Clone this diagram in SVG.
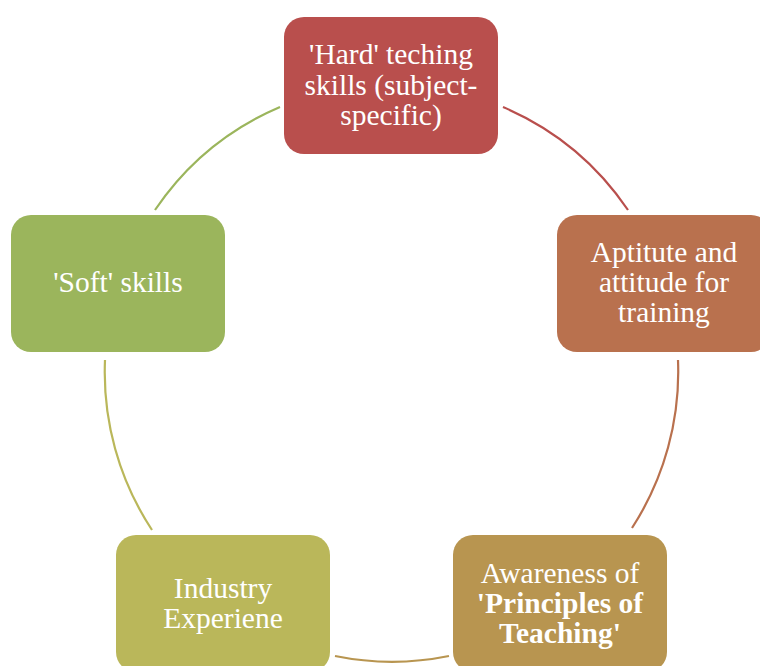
<svg xmlns="http://www.w3.org/2000/svg" width="760" height="666" viewBox="0 0 760 666">
<style>
.box{stroke:none}
.t{font-family:"Liberation Serif","Times New Roman",serif;font-size:29.5px;fill:#ffffff;text-anchor:middle}
.b{font-weight:bold}
.arc{fill:none;stroke-width:2.2}
</style>
<rect width="760" height="666" fill="#ffffff"/>
<g id="connectors">
<path class="arc" stroke="#B94F4D" d="M 503 107 A 287 287 0 0 1 628 210"/>
<path class="arc" stroke="#B9714E" d="M 678 360 A 287 287 0 0 1 632 528"/>
<path class="arc" stroke="#B89550" d="M 449 656 A 287 287 0 0 1 335 656"/>
<path class="arc" stroke="#BAB75A" d="M 152 530 A 287 287 0 0 1 105 360"/>
<path class="arc" stroke="#9BB55C" d="M 155 210 A 287 287 0 0 1 280 107"/>
</g>
<g id="node-hard">
<rect class="box" x="284" y="17" width="214" height="137" rx="20" fill="#B94F4D"/>
<text class="t" x="391" y="64">'Hard' teching</text>
<text class="t" x="391" y="95">skills (subject-</text>
<text class="t" x="391" y="125">specific)</text>
</g>
<g id="node-aptitude">
<rect class="box" x="557" y="215" width="214" height="137" rx="20" fill="#B9714E"/>
<text class="t" x="664" y="262">Aptitute and</text>
<text class="t" x="664" y="292">attitude for</text>
<text class="t" x="664" y="322">training</text>
</g>
<g id="node-awareness">
<rect class="box" x="453" y="535" width="214" height="137" rx="20" fill="#B89550"/>
<text class="t" x="560" y="583">Awareness of</text>
<text class="t b" x="560" y="613">'Principles of</text>
<text class="t b" x="560" y="643">Teaching'</text>
</g>
<g id="node-industry">
<rect class="box" x="116" y="535" width="214" height="137" rx="20" fill="#BAB75A"/>
<text class="t" x="223" y="598">Industry</text>
<text class="t" x="223" y="628">Experiene</text>
</g>
<g id="node-soft">
<rect class="box" x="11" y="215" width="214" height="137" rx="20" fill="#9BB55C"/>
<text class="t" x="118" y="292">'Soft' skills</text>
</g>
</svg>
